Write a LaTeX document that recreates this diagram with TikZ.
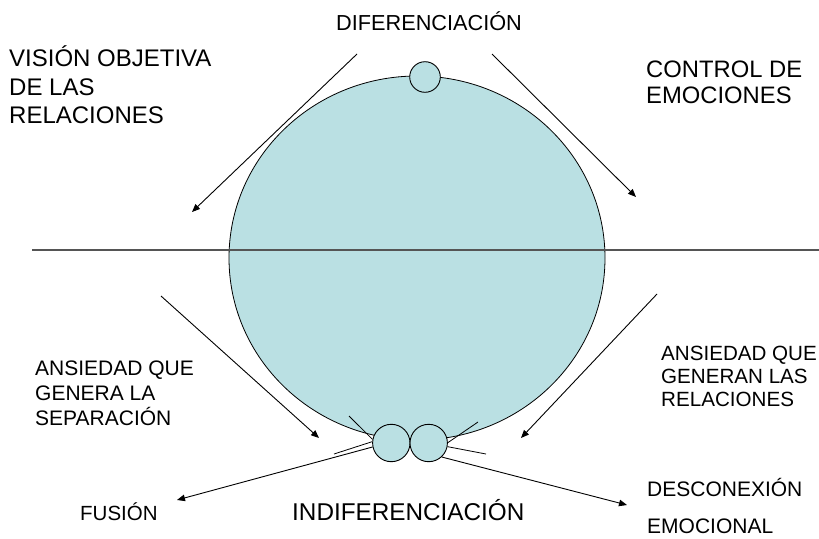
\documentclass[tikz,border=0pt]{standalone}
\usepackage{fontspec}
\setmainfont{Liberation Sans}
\usetikzlibrary{arrows.meta,shapes.geometric}
\definecolor{fillblue}{RGB}{186,224,227}
\definecolor{axisgray}{RGB}{85,85,85}
\begin{document}
\begin{tikzpicture}[x=1pt,y=-1pt,
  bubble/.style={circle,draw=black,fill=fillblue,line width=0.9pt,inner sep=0},
  arr/.style={draw=black,line width=0.9pt,-{Triangle[length=8pt,width=6.5pt]}},
  tickline/.style={draw=black,line width=0.8pt},
  lbl/.style={anchor=base west,inner sep=0,align=left}]
\useasboundingbox (0,0) rectangle (819,538);
\clip (0,0) rectangle (819,538);
% main disc
\node[ellipse,draw=black,fill=fillblue,line width=0.8pt,minimum width=376pt,minimum height=364pt,inner sep=0] (big) at (417,258) {};
% horizontal axis
\coordinate (hl) at (32,250);
\coordinate (hr) at (819,250);
\draw[axisgray,line width=1.3pt] (hl) -- (hr);
% small circles
\node[bubble,minimum size=30.6pt] (top) at (425,77) {};
\node[bubble,minimum size=37.4pt] (lc) at (391.3,443) {};
\node[bubble,minimum size=37.4pt] (rc) at (428.7,443) {};
% arrow end points
\coordinate (a1s) at (357,54);  \coordinate (a1e) at (192,212);
\coordinate (a2s) at (492,54);  \coordinate (a2e) at (636,197);
\coordinate (a3s) at (161,296); \coordinate (a3e) at (319,438);
\coordinate (a4s) at (657,294); \coordinate (a4e) at (521,438);
\coordinate (fe) at (177,500);
\coordinate (de) at (627,505);
\coordinate (t1) at (349,416);
\coordinate (t2) at (334,454);
\coordinate (t3) at (478,422);
\coordinate (t4) at (486,454);
% arrows
\draw[arr] (a1s) -- (a1e);
\draw[arr] (a2s) -- (a2e);
\draw[arr] (a3s) -- (a3e);
\draw[arr] (a4s) -- (a4e);
\draw[arr] (lc.192) -- (fe);
\draw[arr] (rc.-47) -- (de);
% short lines
\draw[tickline] (t1) -- (lc.169);
\draw[tickline] (t2) -- (lc.176);
\draw[tickline] (t3) -- (rc.1);
\draw[tickline] (t4) -- (rc.-11);
% labels (base anchor = baseline of last line)
\node[lbl,font=\fontsize{21.7}{26}\selectfont] (dif) at (336,30) {DIFERENCIACIÓN};
\node[lbl,font=\fontsize{24}{28.3}\selectfont] (vis) at (9,123.3) {VISIÓN OBJETIVA\\DE LAS\\RELACIONES};
\node[lbl,font=\fontsize{23.8}{26}\selectfont] (ctl) at (646,103.3) {CONTROL DE\\EMOCIONES};
\node[lbl,font=\fontsize{21}{25.3}\selectfont] (ansl) at (35,425.7) {ANSIEDAD QUE\\GENERA LA\\SEPARACIÓN};
\node[lbl,font=\fontsize{20.6}{22.7}\selectfont] (ansr) at (661,406) {ANSIEDAD QUE\\GENERAN LAS\\RELACIONES};
\node[lbl,font=\fontsize{20.5}{24}\selectfont] (fus) at (80,520) {FUSIÓN};
\node[lbl,font=\fontsize{24.3}{28}\selectfont] (ind) at (292,520) {INDIFERENCIACIÓN};
\node[lbl,font=\fontsize{21}{36.6}\selectfont] (des) at (647,533.3) {DESCONEXIÓN\\EMOCIONAL};
\end{tikzpicture}
\end{document}
